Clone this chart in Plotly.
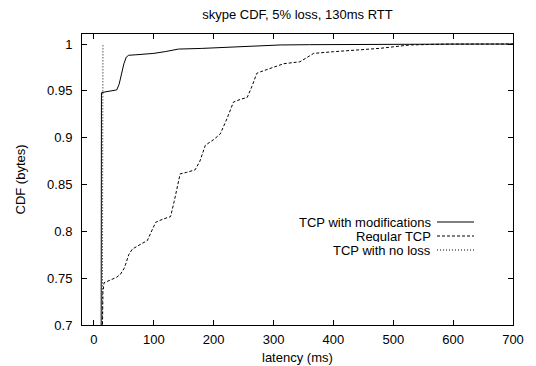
import plotly.graph_objects as go

# TCP with modifications (solid)
mod_x = [12, 12, 12.5, 20, 30, 38, 42, 46, 50, 54, 58, 70, 80, 100, 120, 141, 180, 228, 278, 311, 360, 400, 500, 600, 700]
mod_y = [0.69, 0.92, 0.948, 0.949, 0.950, 0.951, 0.957, 0.968, 0.979, 0.986, 0.988, 0.9885, 0.989, 0.990, 0.992, 0.9946, 0.9953, 0.9965, 0.998, 0.999, 0.9993, 0.9995, 0.9997, 0.9999, 1.0]

# Regular TCP (dashed)
reg_x = [14, 15, 16.7, 28, 38, 44, 50, 53, 58, 64, 69, 80, 89, 96, 103, 115, 128, 134, 140, 144, 155, 169, 177, 186, 200, 211, 222, 233, 245, 256, 264, 272, 278, 295, 317, 344, 356, 367, 400, 440, 478, 500, 528, 560, 594, 650, 700]
reg_y = [0.69, 0.735, 0.745, 0.748, 0.751, 0.754, 0.760, 0.765, 0.775, 0.781, 0.783, 0.787, 0.790, 0.800, 0.8096, 0.813, 0.8157, 0.832, 0.852, 0.8614, 0.863, 0.8657, 0.875, 0.8918, 0.898, 0.904, 0.920, 0.938, 0.941, 0.943, 0.955, 0.9687, 0.9703, 0.974, 0.979, 0.981, 0.986, 0.990, 0.9918, 0.9935, 0.9954, 0.997, 0.999, 0.9995, 1.0, 1.0, 1.0]

# TCP with no loss (dotted)
nol_x = [14, 14, 15]
nol_y = [0.69, 0.95, 1.0]

legend_names = ["TCP with modifications", "Regular TCP", "TCP with no loss"]
x_ticks = [0, 100, 200, 300, 400, 500, 600, 700]
y_ticks = [0.7, 0.75, 0.8, 0.85, 0.9, 0.95, 1.0]
y_tick_text = ["0.7", "0.75", "0.8", "0.85", "0.9", "0.95", "1"]

font = dict(family="Liberation Sans, Arial, sans-serif", size=13, color="black")

fig = go.Figure()
fig.add_trace(go.Scatter(x=mod_x, y=mod_y, mode="lines", name=legend_names[0],
                         line=dict(color="black", width=1)))
fig.add_trace(go.Scatter(x=reg_x, y=reg_y, mode="lines", name=legend_names[1],
                         line=dict(color="black", width=1, dash="3px,2px")))
fig.add_trace(go.Scatter(x=nol_x, y=nol_y, mode="lines", name=legend_names[2],
                         line=dict(color="black", width=1, dash="1px,2px")))

W, H = 536, 366
ml, mr, mt, mb = 82, 23, 34, 41
pw, ph = W - ml - mr, H - mt - mb


def px_x(p):
    return (p - ml) / pw


def px_y(p):
    return 1 - (p - mt) / ph


# gnuplot-style key: right-aligned text with line sample to the right
dashes = ["solid", "3px,2px", "1px,2px"]
rows_px = [222, 236, 250]
for name, d, yp in zip(legend_names, dashes, rows_px):
    fig.add_annotation(x=px_x(432), y=px_y(yp), xref="paper", yref="paper",
                       text=name, showarrow=False, xanchor="right", yanchor="middle",
                       font=font, height=12, borderpad=0, valign="middle")
    fig.add_shape(type="line", xref="paper", yref="paper",
                  x0=px_x(437), x1=px_x(474), y0=px_y(yp), y1=px_y(yp),
                  line=dict(color="black", width=1, dash=d))

# axis titles (placed like gnuplot)
fig.add_annotation(x=px_x(ml + pw / 2), y=px_y(357), xref="paper", yref="paper",
                   text="latency (ms)", showarrow=False, xanchor="center", yanchor="middle",
                   font=font)
fig.add_annotation(x=px_x(20), y=px_y(mt + ph / 2), xref="paper", yref="paper",
                   text="CDF (bytes)", showarrow=False, xanchor="center", yanchor="middle",
                   textangle=-90, font=font)

fig.update_layout(
    width=W, height=H,
    margin=dict(l=ml, r=mr, t=mt, b=mb, autoexpand=False),
    paper_bgcolor="white", plot_bgcolor="white",
    showlegend=False,
    font=font,
    title=dict(text="skype CDF, 5% loss, 130ms RTT", x=(ml + pw / 2) / W, xanchor="center",
               y=1 - 14 / H, yanchor="middle", font=font),
)
fig.update_xaxes(range=[-20, 700], tickvals=x_ticks, ticks="inside", ticklen=5,
                 showgrid=False, zeroline=False, showline=True, linecolor="black",
                 linewidth=1, mirror="ticks", tickcolor="black", ticklabelstandoff=2,
                 automargin=False)
fig.update_yaxes(range=[0.7, 1.0107], tickvals=y_ticks, ticktext=y_tick_text, ticks="inside",
                 ticklen=5, showgrid=False, zeroline=False, showline=True, linecolor="black",
                 linewidth=1, mirror="ticks", tickcolor="black", ticklabelstandoff=6,
                 automargin=False)

fig.write_html("out.html")
